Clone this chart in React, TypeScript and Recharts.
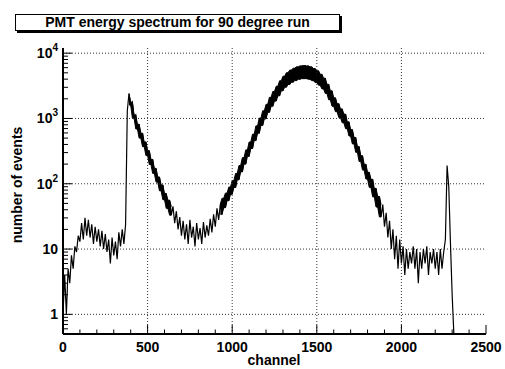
import React from "react";
import { ComposedChart, Line, Area, XAxis, YAxis, ReferenceLine } from "recharts";

// bin width of the histogram, in channels
const BIN = 10;

// counts per 10-channel bin (channel 0 .. 2310)
const counts = [
  1, 4, 1, 5, 3, 8, 5, 11, 9, 16,
  13, 25, 14, 30, 16, 28, 15, 24, 12, 22,
  13, 20, 11, 19, 10, 17, 9, 14, 6, 15,
  8, 13, 7, 18, 11, 20, 12, 24, 1300, 2400,
  1610, 1780, 1020, 1130, 690, 815, 500, 595, 370, 437,
  270, 321, 197, 236, 144, 172, 106, 127, 78, 96,
  57, 71, 42, 56, 33, 45, 25, 38, 20, 31,
  16, 27, 14, 24, 12, 28, 15, 22, 11, 25,
  14, 21, 12, 26, 15, 23, 16, 29, 18, 34,
  22, 42, 28, 49, 34, 60, 43, 72, 55, 89,
  69, 112, 88, 144, 115, 190, 152, 251, 200, 330,
  263, 436, 347, 575, 458, 770, 593, 1015, 783, 1308,
  985, 1646, 1241, 2106, 1536, 2590, 1848, 3115, 2221, 3775,
  2649, 4435, 3006, 5016, 3309, 5500, 3586, 5893, 3798, 6171,
  3978, 6388, 4071, 6463, 4071, 6388, 3978, 6171, 3798, 5826,
  3545, 5375, 3233, 4753, 2838, 4139, 2416, 3338, 1935, 2651,
  1536, 2072, 1270, 1684, 1032, 1401, 858, 1165, 697, 889,
  538, 675, 408, 512, 303, 371, 219, 269, 162, 199,
  118, 150, 88, 117, 63, 85, 44, 64, 31, 48,
  22, 36, 15, 27, 10, 20, 7, 16, 5, 14,
  6, 11, 4, 10, 5, 9, 6, 11, 5, 10,
  3, 9, 5, 10, 6, 11, 4, 9, 6, 10,
  5, 9, 4, 10, 5, 9, 14, 190, 90, 12,
  2, 0.5,
];

const xTicks = [
  0, 100, 200, 300, 400, 500, 600, 700, 800, 900, 1000, 1100, 1200,
  1300, 1400, 1500, 1600, 1700, 1800, 1900, 2000, 2100, 2200, 2300,
  2400, 2500,
];
const xMajor = [0, 500, 1000, 1500, 2000, 2500];

const yTicks = [
  0.6, 0.7, 0.8, 0.9,
  1, 2, 3, 4, 5, 6, 7, 8, 9,
  10, 20, 30, 40, 50, 60, 70, 80, 90,
  100, 200, 300, 400, 500, 600, 700, 800, 900,
  1000, 2000, 3000, 4000, 5000, 6000, 7000, 8000, 9000,
  10000,
];
const yMajor = [1, 10, 100, 1000, 10000];

const gridX = [500, 1000, 1500, 2000];
const gridY = [1, 10, 100, 1000, 10000];

// odd/even bin spread drawn as a filled band where the statistics are high
const BAND_MIN = 30;

const data = counts.map((c, i) => {
  const next = counts[i + 1];
  const band =
    next !== undefined && c > BAND_MIN && next > BAND_MIN && i > 38
      ? [Math.min(c, next), Math.max(c, next)]
      : null;
  return { channel: i * BIN, count: c, band };
});

const FONT = "'Liberation Sans', Arial, Helvetica, sans-serif";

function XTick(props: any) {
  const { x, y, payload, side } = props;
  const v = payload.value;
  const major = xMajor.includes(v);
  const len = major ? 9 : 4.5;
  const y2 = side === "bottom" ? y - len : y + len;
  return (
    <g>
      <line x1={x} x2={x} y1={y} y2={y2} stroke="#000" strokeWidth={1} />
      {side === "bottom" && major && (
        <text
          x={x}
          y={y + 18}
          textAnchor="middle"
          fontFamily={FONT}
          fontWeight="bold"
          fontSize={14}
          fill="#000"
        >
          {v}
        </text>
      )}
    </g>
  );
}

function YTick(props: any) {
  const { x, y, payload, side } = props;
  const v = payload.value;
  const major = yMajor.includes(v);
  const len = major ? 9 : 5;
  const x2 = side === "left" ? x + len : x - len;
  const exp = Math.round(Math.log10(v));
  return (
    <g>
      <line x1={x} x2={x2} y1={y} y2={y} stroke="#000" strokeWidth={1} />
      {side === "left" && major && (
        <text
          x={x - 5}
          y={y + 5}
          textAnchor="end"
          fontFamily={FONT}
          fontWeight="bold"
          fontSize={14}
          fill="#000"
        >
          {exp < 2 ? (
            String(v)
          ) : (
            <>
              <tspan>10</tspan>
              <tspan dy={-7} fontSize={10}>
                {exp}
              </tspan>
            </>
          )}
        </text>
      )}
    </g>
  );
}

const axisLine = { stroke: "#000", strokeWidth: 2 };

export default function App() {
  return (
    <div
      style={{
        position: "absolute",
        left: 0,
        top: 0,
        width: 505,
        height: 369,
        background: "#fff",
        fontFamily: FONT,
      }}
    >
      <ComposedChart
        width={505}
        height={369}
        data={data}
        margin={{ top: 48, right: 19, bottom: 0, left: 0 }}
      >
        <XAxis
          xAxisId="bottom"
          dataKey="channel"
          type="number"
          domain={[0, 2500]}
          ticks={xTicks}
          interval={0}
          height={35}
          tickSize={0}
          tickMargin={0}
          tickLine={false}
          axisLine={axisLine}
          tick={(p: any) => <XTick {...p} side="bottom" />}
        />
        <XAxis
          xAxisId="top"
          orientation="top"
          dataKey="channel"
          type="number"
          domain={[0, 2500]}
          ticks={xTicks}
          interval={0}
          height={0}
          tickSize={0}
          tickMargin={0}
          tickLine={false}
          axisLine={axisLine}
          tick={(p: any) => <XTick {...p} side="top" />}
        />
        <YAxis
          yAxisId="left"
          type="number"
          scale="log"
          domain={[0.5, 12000]}
          allowDataOverflow
          ticks={yTicks}
          interval={0}
          width={63}
          tickSize={0}
          tickMargin={0}
          tickLine={false}
          axisLine={axisLine}
          tick={(p: any) => <YTick {...p} side="left" />}
        />
        <YAxis
          yAxisId="right"
          orientation="right"
          type="number"
          scale="log"
          domain={[0.5, 12000]}
          allowDataOverflow
          ticks={yTicks}
          interval={0}
          width={0}
          tickSize={0}
          tickMargin={0}
          tickLine={false}
          axisLine={axisLine}
          tick={(p: any) => <YTick {...p} side="right" />}
        />
        {gridX.map((v) => (
          <ReferenceLine
            key={"gx" + v}
            xAxisId="bottom"
            yAxisId="left"
            x={v}
            stroke="#333"
            strokeDasharray="1 2"
          />
        ))}
        {gridY.map((v) => (
          <ReferenceLine
            key={"gy" + v}
            xAxisId="bottom"
            yAxisId="left"
            y={v}
            stroke="#333"
            strokeDasharray="1 2"
          />
        ))}
        <Line
          xAxisId="top"
          yAxisId="right"
          dataKey="count"
          stroke="none"
          dot={false}
          isAnimationActive={false}
        />
        <Area
          xAxisId="bottom"
          yAxisId="left"
          dataKey="band"
          type="linear"
          stroke="#000"
          strokeWidth={1}
          fill="#000"
          fillOpacity={1}
          dot={false}
          activeDot={false}
          isAnimationActive={false}
        />
        <Line
          xAxisId="bottom"
          yAxisId="left"
          dataKey="count"
          type="linear"
          stroke="#000"
          strokeWidth={1.2}
          dot={false}
          isAnimationActive={false}
        />
      </ComposedChart>

      <div
        style={{
          position: "absolute",
          left: 15,
          top: 14,
          width: 325,
          height: 17,
          boxSizing: "border-box",
          border: "1px solid #000",
          boxShadow: "2px 2px 0 #000",
          background: "#fff",
          textAlign: "center",
          fontWeight: "bold",
          fontSize: 14,
          lineHeight: "15px",
          whiteSpace: "nowrap",
        }}
      >
        PMT energy spectrum for 90 degree run
      </div>
      <div
        style={{
          position: "absolute",
          left: 274,
          top: 360,
          transform: "translate(-50%, -50%)",
          fontWeight: "bold",
          fontSize: 14,
          whiteSpace: "nowrap",
        }}
      >
        channel
      </div>
      <div
        style={{
          position: "absolute",
          left: 17,
          top: 185,
          transform: "translate(-50%, -50%) rotate(-90deg)",
          fontWeight: "bold",
          fontSize: 14,
          whiteSpace: "nowrap",
        }}
      >
        number of events
      </div>
    </div>
  );
}
